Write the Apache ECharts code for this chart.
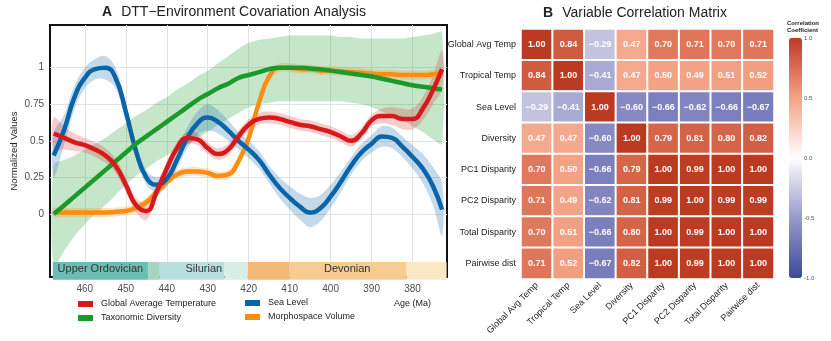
<!DOCTYPE html>
<html><head><meta charset="utf-8">
<script src="https://cdn.jsdelivr.net/npm/echarts@6/dist/echarts.min.js"></script>
<style>html,body{margin:0;padding:0;background:#fff}#c{width:831px;height:341px}</style>
</head><body><div id="c"></div>
<script>
// ---------- Panel A data ----------
const ages = [467.6,465,462.5,460,457.5,455,452.5,450,447.5,445,442.5,440,437.5,435,432.5,430,427.5,425,422.5,420,417.5,415,412.5,410,407.5,405,402.5,400,397.5,395,392.5,390,387.5,385,382.5,380,377.5,375,372.8];
const seaLevel = [0.40,0.58,0.80,0.93,0.99,1.00,0.93,0.70,0.43,0.25,0.20,0.24,0.37,0.52,0.62,0.66,0.63,0.57,0.50,0.44,0.37,0.27,0.18,0.11,0.05,0.01,0.04,0.12,0.22,0.33,0.42,0.48,0.53,0.52,0.46,0.39,0.31,0.19,0.03];
const seaLevelHW = [0.15,0.10,0.08,0.07,0.07,0.08,0.07,0.06,0.05,0.05,0.05,0.05,0.06,0.07,0.08,0.09,0.08,0.07,0.06,0.06,0.06,0.06,0.07,0.08,0.09,0.10,0.09,0.08,0.07,0.06,0.06,0.06,0.07,0.07,0.07,0.08,0.10,0.13,0.18];
const globalTemp = [0.55,0.52,0.49,0.47,0.44,0.40,0.33,0.20,0.06,0.02,0.15,0.31,0.45,0.52,0.51,0.45,0.41,0.44,0.53,0.61,0.65,0.66,0.65,0.63,0.61,0.60,0.58,0.56,0.53,0.50,0.55,0.64,0.67,0.67,0.65,0.65,0.72,0.85,0.99];
const globalTempHW = [0.11,0.08,0.06,0.05,0.05,0.05,0.05,0.05,0.05,0.06,0.05,0.05,0.04,0.04,0.04,0.04,0.04,0.04,0.04,0.04,0.04,0.04,0.04,0.04,0.04,0.04,0.04,0.04,0.04,0.04,0.04,0.04,0.05,0.06,0.07,0.07,0.08,0.10,0.13];
const morphoVolume = [0.01,0.01,0.01,0.01,0.01,0.01,0.015,0.02,0.04,0.08,0.15,0.22,0.27,0.29,0.29,0.28,0.26,0.27,0.36,0.52,0.76,0.94,1.00,1.00,0.99,0.99,0.98,0.98,0.975,0.97,0.965,0.96,0.955,0.955,0.95,0.95,0.95,0.955,0.96];
const morphoVolumeHW = [0.03,0.03,0.03,0.03,0.03,0.03,0.03,0.03,0.03,0.03,0.03,0.03,0.03,0.03,0.03,0.03,0.03,0.03,0.03,0.03,0.03,0.03,0.03,0.03,0.03,0.03,0.03,0.03,0.03,0.03,0.03,0.03,0.03,0.03,0.03,0.03,0.03,0.03,0.03];
const diversity = [0.00,0.06,0.12,0.18,0.24,0.30,0.36,0.42,0.48,0.53,0.58,0.63,0.68,0.73,0.78,0.82,0.86,0.89,0.93,0.95,0.97,0.99,1.00,1.00,1.00,0.995,0.99,0.98,0.97,0.96,0.95,0.94,0.925,0.91,0.895,0.88,0.87,0.86,0.85];
const diversityLow = [-0.36,-0.25,-0.15,-0.07,0.00,0.06,0.13,0.20,0.26,0.31,0.36,0.40,0.44,0.47,0.52,0.56,0.61,0.65,0.69,0.73,0.75,0.76,0.77,0.77,0.77,0.77,0.77,0.77,0.77,0.76,0.75,0.73,0.70,0.67,0.64,0.60,0.56,0.51,0.48];
const diversityHigh = [0.33,0.37,0.40,0.44,0.48,0.52,0.57,0.62,0.67,0.71,0.76,0.80,0.85,0.89,0.94,0.98,1.03,1.08,1.13,1.17,1.19,1.20,1.21,1.22,1.22,1.22,1.22,1.22,1.21,1.21,1.20,1.20,1.20,1.20,1.20,1.21,1.22,1.23,1.24];

const xTicks = [460,450,440,430,420,410,400,390,380];
const yTicks = [0,0.25,0.5,0.75,1];
const yTickLabels = ['0','0.25','0.5','0.75','1'];

// geological time band
const segStart = [467.8,444.6,441.7,425.9,420.2,410.0,381.5];
const segEnd   = [444.6,441.7,425.9,420.2,410.0,381.5,371.7];
const periodNames = ['Upper Ordovician','Silurian','Devonian'];
const periodStart = [467.8,441.7,420.2];
const periodEnd   = [444.6,420.2,371.7];

// ---------- Panel B data ----------
const varNames = ['Global Avg Temp','Tropical Temp','Sea Level','Diversity','PC1 Disparity','PC2 Disparity','Total Disparity','Pairwise dist'];
const corr = [
  [1.00,0.84,-0.29,0.47,0.70,0.71,0.70,0.71],
  [0.84,1.00,-0.41,0.47,0.50,0.49,0.51,0.52],
  [-0.29,-0.41,1.00,-0.60,-0.66,-0.62,-0.66,-0.67],
  [0.47,0.47,-0.60,1.00,0.79,0.81,0.80,0.82],
  [0.70,0.50,-0.66,0.79,1.00,0.99,1.00,1.00],
  [0.71,0.49,-0.62,0.81,0.99,1.00,0.99,0.99],
  [0.70,0.51,-0.66,0.80,1.00,0.99,1.00,1.00],
  [0.71,0.52,-0.67,0.82,1.00,0.99,1.00,1.00]
];

// ---------- styles ----------
const FONT = '"Liberation Sans", Arial, sans-serif';
const C = {red:'#d7191c', blue:'#0a64a8', green:'#1a9a2a', orange:'#fd8d12'};
const segColors = ['#6cbdb2','#a4d6c3','#b7e0dc','#d7eee8','#f1b878','#f6cc92','#fce7c3'];
const BAND_TOP = -0.328, BAND_BOT = -0.45;

const pair = (arr) => ages.map((a,i)=>[a, arr[i]]);
function ribbonSeries(low, high, color) {
  return {
    type:'custom', xAxisIndex:0, yAxisIndex:0, z:2, silent:true, clip:true,
    data: ages.map((a,i)=>[a, low[i], high[i]]),
    encode:{x:0, y:[1,2]},
    renderItem:(params, api)=>{
      if (params.dataIndexInside !== 0) return null;
      const n = params.dataInsideLength;
      const up = [], lo = [];
      for (let i=0;i<n;i++) {
        up.push(api.coord([api.value(0,i), api.value(2,i)]));
        lo.push(api.coord([api.value(0,i), api.value(1,i)]));
      }
      return {type:'polygon', shape:{points: up.concat(lo.reverse()), smooth:0.35}, style:{fill:color}};
    }
  };
}
const lowOf = (mid, hw) => mid.map((v,i)=>v-hw[i]);
const highOf = (mid, hw) => mid.map((v,i)=>v+hw[i]);
function lineSeries(name, arr, color) {
  return {name, type:'line', xAxisIndex:0, yAxisIndex:0, data:pair(arr), smooth:0.5, showSymbol:false,
    lineStyle:{color, width:4.5}, itemStyle:{color}, z:3};
}

const heatData = [];
corr.forEach((row,i)=>row.forEach((v,j)=>heatData.push([j,i,v])));

const series = [
  ribbonSeries(diversityLow, diversityHigh, 'rgba(26,154,42,0.25)'),
  ribbonSeries(lowOf(seaLevel, seaLevelHW), highOf(seaLevel, seaLevelHW), 'rgba(10,100,168,0.24)'),
  ribbonSeries(lowOf(globalTemp, globalTempHW), highOf(globalTemp, globalTempHW), 'rgba(215,25,28,0.22)'),
  ribbonSeries(lowOf(morphoVolume, morphoVolumeHW), highOf(morphoVolume, morphoVolumeHW), 'rgba(253,141,18,0.25)'),
  lineSeries('Morphospace Volume', morphoVolume, C.orange),
  lineSeries('Sea Level', seaLevel, C.blue),
  lineSeries('Taxonomic Diversity', diversity, C.green),
  lineSeries('Global Average Temperature', globalTemp, C.red),
  {
    type:'custom', xAxisIndex:0, yAxisIndex:0, z:5, silent:true,
    data: segStart.map((s,i)=>[s, segEnd[i], i]),
    encode:{x:[0,1]},
    renderItem:(params, api)=>{
      const p0 = api.coord([api.value(0), BAND_TOP]);
      const p1 = api.coord([api.value(1), BAND_BOT]);
      return {type:'rect', shape:{x:Math.min(p0[0],p1[0]), y:p0[1], width:Math.abs(p1[0]-p0[0]), height:p1[1]-p0[1]},
        style:{fill:segColors[api.value(2)]}};
    }
  },
  {
    type:'custom', xAxisIndex:0, yAxisIndex:0, z:6, silent:true,
    data: periodNames.map((n,i)=>[periodStart[i], periodEnd[i], i]),
    encode:{x:[0,1]},
    renderItem:(params, api)=>{
      const p = api.coord([(api.value(0)+api.value(1))/2, (BAND_TOP-0.431)/2]);
      return {type:'text', x:p[0], y:p[1], style:{text:periodNames[api.value(2)], fill:'#333', font:'11px '+FONT, textAlign:'center', textVerticalAlign:'middle'}};
    }
  },
  {
    name:'corr', type:'heatmap', xAxisIndex:1, yAxisIndex:1, data:heatData,
    itemStyle:{borderColor:'#fff', borderWidth:2},
    label:{show:true, color:'#fff', fontSize:9, fontWeight:'bold', fontFamily:FONT,
      formatter:(p)=>{const v=p.value[2]; return (v<0?'\u2212':'')+Math.abs(v).toFixed(2);}}
  },
  {type:'scatter', xAxisIndex:2, yAxisIndex:2, data:[], silent:true}
];
const heatIndex = series.findIndex(s=>s.name==='corr');

const option = {
  animation:false,
  textStyle:{fontFamily:FONT},
  grid:[
    {left:50, top:25, width:397, height:252, show:true, borderColor:'#111', borderWidth:2, backgroundColor:'rgba(0,0,0,0)'},
    {left:521, top:29, width:253, height:250, show:true, borderColor:'#111', borderWidth:2, backgroundColor:'rgba(0,0,0,0)'},
    {left:789, top:38, width:13, height:240, show:false}
  ],
  xAxis:[
    {gridIndex:0, type:'value', inverse:true, min:371.6, max:468.5,
      axisLine:{show:false}, axisTick:{show:false, customValues:xTicks},
      axisLabel:{customValues:xTicks, fontSize:10, color:'#4d4d4d', margin:7, fontFamily:FONT},
      splitLine:{show:true, lineStyle:{color:'#e2e2e2', width:1}}},
    {gridIndex:1, type:'category', data:varNames, axisLine:{show:false}, axisTick:{show:false},
      axisLabel:{rotate:45, interval:0, fontSize:9, color:'#222', margin:5, fontFamily:FONT}, splitLine:{show:false}},
    {gridIndex:2, type:'value', show:false, min:0, max:1}
  ],
  yAxis:[
    {gridIndex:0, type:'value', min:-0.431, max:1.292,
      name:'Normalized Values', nameLocation:'middle', nameGap:31, nameTextStyle:{fontSize:9.5, color:'#222', fontFamily:FONT},
      axisLine:{show:false}, axisTick:{show:false, customValues:yTicks},
      axisLabel:{customValues:yTicks, formatter:(v)=>yTickLabels[yTicks.indexOf(v)] ?? '', fontSize:10, color:'#4d4d4d', margin:6, fontFamily:FONT},
      splitLine:{show:true, lineStyle:{color:'#e2e2e2', width:1}}},
    {gridIndex:1, type:'category', data:varNames, inverse:true, axisLine:{show:false}, axisTick:{show:false},
      axisLabel:{interval:0, fontSize:9, color:'#222', margin:5, fontFamily:FONT}, splitLine:{show:false}},
    {gridIndex:2, type:'value', min:-1, max:1, interval:0.5, position:'right',
      axisLine:{show:false}, axisTick:{show:true, inside:true, length:3, lineStyle:{color:'#fff', width:1}},
      axisLabel:{fontSize:6, color:'#555', margin:2, formatter:(v)=>v.toFixed(1), fontFamily:FONT}, splitLine:{show:false}}
  ],
  visualMap:{type:'continuous', min:-1, max:1, seriesIndex:heatIndex, orient:'vertical', left:789, top:38,
    itemWidth:13, itemHeight:240, padding:0, calculable:false, showLabel:false, text:null,
    inRange:{color:['#3b4a9a','#6a70b4','#9899cc','#cbcbe5','#ffffff','#f9d2c4','#f3a285','#db6e52','#bb3a22']}},
  legend:[
    {data:['Global Average Temperature','Taxonomic Diversity'], orient:'vertical', left:78, top:299, icon:'rect',
      itemWidth:15, itemHeight:6, itemGap:4, selectedMode:false, padding:0,
      textStyle:{fontSize:9, color:'#222', lineHeight:10, fontFamily:FONT, padding:[0,0,0,3]}},
    {data:['Sea Level','Morphospace Volume'], orient:'vertical', left:245, top:298, icon:'rect',
      itemWidth:15, itemHeight:6, itemGap:4, selectedMode:false, padding:0,
      textStyle:{fontSize:9, color:'#222', lineHeight:10, fontFamily:FONT, padding:[0,0,0,3]}}
  ],
  graphic:[
    {type:'text', x:234, y:12, style:{text:'{b|A}DTT\u2212Environment Covariation Analysis', font:'14px '+FONT, fill:'#222', textAlign:'center', textVerticalAlign:'middle',
      rich:{b:{fontWeight:'bold', fontSize:14, fontFamily:FONT, fill:'#222', padding:[0,9,0,0]}}}},
    {type:'text', x:635, y:13, style:{text:'{b|B}Variable Correlation Matrix', font:'14px '+FONT, fill:'#222', textAlign:'center', textVerticalAlign:'middle',
      rich:{b:{fontWeight:'bold', fontSize:14, fontFamily:FONT, fill:'#222', padding:[0,9,0,0]}}}},
    {type:'text', x:394, y:304, style:{text:'Age (Ma)', font:'9px '+FONT, fill:'#222', textVerticalAlign:'middle'}},
    {type:'text', x:787, y:27, style:{text:'Correlation\nCoefficient', font:'bold 6px '+FONT, fill:'#222', textVerticalAlign:'middle', lineHeight:7}}
  ],
  series
};
const chart = echarts.init(document.getElementById('c'));
chart.setOption(option);
</script>
</body></html>
